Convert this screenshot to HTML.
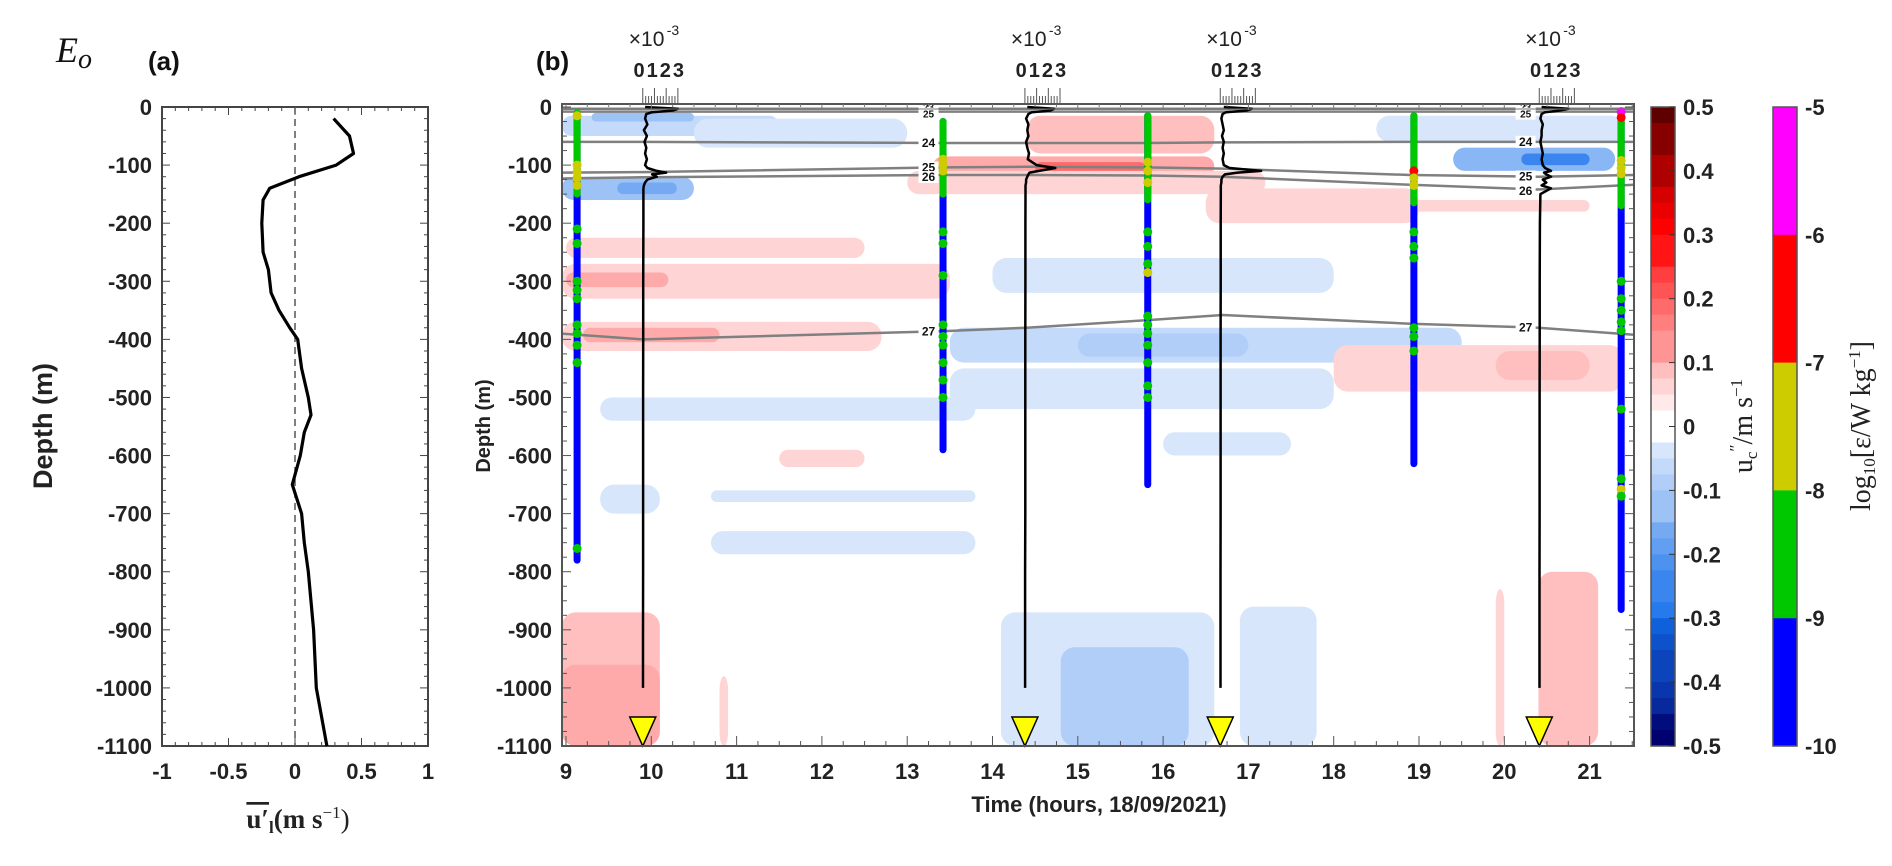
<!DOCTYPE html>
<html><head><meta charset="utf-8">
<style>
body{margin:0;background:#fff;position:relative;width:1892px;height:861px;overflow:hidden;}
.tk{font-family:"Liberation Sans",sans-serif;font-weight:bold;font-size:22px;fill:#222;}
.sans{font-family:"Liberation Sans",sans-serif;}
</style></head>
<body>
<svg id="fig" width="1892" height="861" viewBox="0 0 1892 861" xmlns="http://www.w3.org/2000/svg">
</svg>
<script>
// ---------- DATA ----------
const aDepth=[-20,-50,-80,-100,-120,-140,-160,-200,-250,-280,-320,-350,-380,-400,-450,-500,-530,-560,-600,-650,-700,-750,-800,-900,-1000,-1100];
const aU=[0.29,0.41,0.44,0.31,0.03,-0.19,-0.24,-0.25,-0.24,-0.2,-0.18,-0.12,-0.04,0.02,0.05,0.1,0.12,0.07,0.04,-0.02,0.05,0.07,0.1,0.14,0.16,0.24];
const aYTicks=[0,-100,-200,-300,-400,-500,-600,-700,-800,-900,-1000,-1100];
const aXTicks=[-1,-0.5,0,0.5,1];
const bXTicks=[9,10,11,12,13,14,15,16,17,18,19,20,21];
const bYTicks=[0,-100,-200,-300,-400,-500,-600,-700,-800,-900,-1000,-1100];
const pT0=[8.95,9.3,10.5,8.95,9.6,13.3,14.5,14.4,13.0,18.5,19.4,20.2,8.95,9.0,9.0,8.95,9.2,13.5,15.0,14.0,13.5,18.0,19.9,16.5,9.4,8.95,8.95,14.1,14.8,16.9,9.4,10.7,10.7,20.4,19.9,10.8,11.5,16.0,17.5];
const pT1=[11.5,10.5,13.0,10.5,10.3,16.6,15.8,16.6,17.2,21.4,21.3,21.0,13.5,10.2,12.5,12.7,10.8,19.5,17.0,18.0,18.0,21.4,21.0,19.0,13.8,10.1,10.1,16.6,16.3,17.8,10.1,13.8,13.8,21.1,20.0,10.9,12.5,17.5,21.0];
const pD0=[15,10,20,120,130,85,95,15,110,15,70,80,270,285,225,370,380,380,390,260,450,410,420,140,500,870,960,870,930,860,650,660,730,800,830,980,590,560,160];
const pD1=[50,25,70,160,150,120,115,80,150,60,110,100,330,310,260,420,405,440,430,320,520,490,470,200,540,1100,1100,1100,1100,1100,700,680,770,1100,1100,1100,620,600,180];
const pV=[-0.07,-0.12,-0.05,-0.12,-0.18,0.1,0.18,0.07,0.05,-0.06,-0.15,-0.26,0.06,0.1,0.04,0.05,0.09,-0.07,-0.11,-0.05,-0.04,0.05,0.08,0.04,-0.04,0.07,0.09,-0.06,-0.1,-0.04,-0.04,-0.04,-0.04,0.07,0.04,0.04,0.04,-0.04,0.04];
const isoT=[8.95,9.9,13.4,14.4,15.8,16.7,18.9,20.4,21.52];
const iso23=[3,3,3,3,3,3,3,3,3];
const iso23b=[8,8,8,8,8,8,8,8,8];
const iso24=[60,60,62,62,62,61,60,60,60];
const iso25=[113,112,104,103,104,106,117,120,117];
const iso26=[123,121,117,117,118,120,134,142,134];
const iso27=[390,400,386,380,367,358,373,380,392];
const epsT=[9.13,13.42,15.82,18.94,21.37];
const epsTop=[10,25,15,15,10];
const epsBot=[780,590,650,614,865];
const epsGreenTop=[10,25,15,15,20];
const epsGreenBot=[150,150,160,165,170];
const eps1=[[15,2],[100,2],[112,2],[122,2],[135,2],[210,1],[235,1],[300,1],[315,1],[330,1],[375,1],[390,1],[410,1],[440,1],[760,1]];
const eps2=[[90,2],[100,2],[110,2],[215,1],[235,1],[290,1],[375,1],[395,1],[410,1],[440,1],[470,1],[500,1]];
const eps3=[[95,2],[110,2],[130,2],[215,1],[240,1],[270,1],[285,2],[360,1],[375,1],[390,1],[410,1],[440,1],[480,1],[500,1]];
const eps4=[[110,3],[122,2],[135,2],[215,1],[240,1],[260,1],[380,1],[395,1],[420,1]];
const eps5=[[8,4],[18,3],[92,2],[105,2],[115,2],[300,1],[330,1],[350,1],[370,1],[385,1],[520,1],[640,1],[658,2],[670,1]];
const epsDots=[eps1,eps2,eps3,eps4,eps5];
const epsColors=["#0000ff","#00c800","#cccc00","#ff0000","#ff00ff"];
const profT=[9.9,14.38,16.67,20.41];
const profD=[0,3,6,9,12,20,30,40,50,60,70,80,90,100,105,110,113,116,120,125,130,135,140,150,200,300,400,500,600,700,800,900,1000];
const prof1=[0.2,3.0,2.6,0.8,0.3,0.2,0.4,0.1,0.35,0.15,0.3,0.2,0.35,0.2,0.4,1.2,2.0,0.8,1.2,0.4,0.2,0.1,0.05,0.05,0.05,0.04,0.04,0.03,0.03,0.03,0.03,0.02,0.02];
const prof2=[0.2,2.5,2.2,0.6,0.3,0.1,0.3,0.2,0.3,0.1,0.2,0.35,0.25,1.0,2.6,1.2,0.4,0.3,0.2,0.1,0.1,0.05,0.05,0.05,0.04,0.04,0.03,0.03,0.03,0.03,0.02,0.02,0.02];
const prof3=[0.3,2.7,2.3,0.5,0.2,0.1,0.2,0.3,0.15,0.3,0.2,0.3,0.2,0.3,0.8,3.5,1.5,0.4,0.2,0.1,0.1,0.05,0.05,0.05,0.04,0.04,0.03,0.03,0.03,0.03,0.02,0.02,0.02];
const prof4=[0.2,2.5,1.8,0.5,0.2,0.1,0.3,0.2,0.2,0.1,0.2,0.3,0.2,0.3,0.5,1.0,0.4,0.6,1.0,0.3,0.6,0.2,1.0,0.1,0.05,0.04,0.04,0.03,0.03,0.03,0.02,0.02,0.02];
const profs=[prof1,prof2,prof3,prof4];
const cb1Ticks=[0.5,0.4,0.3,0.2,0.1,0,-0.1,-0.2,-0.3,-0.4,-0.5];
const cb2Ticks=[-5,-6,-7,-8,-9,-10];

// ---------- HELPERS ----------
const NS="http://www.w3.org/2000/svg";
const svg=document.getElementById('fig');
function mk(tag,attrs,parent){const e=document.createElementNS(NS,tag);for(const k in attrs)e.setAttribute(k,attrs[k]);(parent||svg).appendChild(e);return e;}
const TOP=107,BOT=746;
const yD=d=>TOP+(Math.abs(d)/1100)*(BOT-TOP);
const axL=162,axR=428;
const xA=u=>axL+(u+1)/2*(axR-axL);
const bL=562,bR=1634;
const xT=t=>566+(t-9)*85.3;
function col(v){
  v=Math.round(v/0.025)*0.025;
  if(Math.abs(v)<0.013)return "#ffffff";
  const a=Math.abs(v);
  let r,g,b;
  if(v>0){
    if(a<=0.3){const f=a/0.3;r=255;g=255-255*f;b=255-255*f;}
    else{const f=(a-0.3)/0.2;r=255-160*f;g=0;b=0;}
  }else{
    if(a<=0.3){const f=a/0.3;r=255-235*f;g=255-145*f;b=255-20*f;}
    else{const f=(a-0.3)/0.2;r=20-20*f;g=110-110*f;b=235-125*f;}
  }
  return `rgb(${r|0},${g|0},${b|0})`;
}
function txt(s,x,y,attrs,parent){const e=mk('text',Object.assign({x:x,y:y},attrs||{}),parent);e.textContent=s;return e;}

// ---------- PANEL A ----------
const gA=mk('g',{});


const fa=mk('rect',{x:axL,y:TOP,width:axR-axL,height:BOT-TOP,fill:'#fff',stroke:'#444','stroke-width':2},gA);


for(let d=0;d<=1100;d+=20){const y=yD(d);const L=(d%100===0)?8:4;
  mk('line',{x1:axL,x2:axL+L,y1:y,y2:y,stroke:'#444','stroke-width':1},gA);
  mk('line',{x1:axR,x2:axR-L,y1:y,y2:y,stroke:'#444','stroke-width':1},gA);}
for(let u=-1;u<=1.001;u+=0.1){const x=xA(u);const L=(Math.abs(Math.round(u*10))%5===0)?8:4;
  mk('line',{x1:x,x2:x,y1:BOT,y2:BOT-L,stroke:'#444','stroke-width':1},gA);
  mk('line',{x1:x,x2:x,y1:TOP,y2:TOP+L,stroke:'#444','stroke-width':1},gA);}
const zl=mk('line',{x1:xA(0),x2:xA(0),y1:TOP,y2:BOT,stroke:'#555','stroke-width':1.5,'stroke-dasharray':'7,5'},gA);


let pa='';aDepth.forEach((d,i)=>{pa+=(i?'L':'M')+xA(aU[i]).toFixed(1)+','+yD(d).toFixed(1);});
const la=mk('path',{d:pa,fill:'none',stroke:'#000','stroke-width':3.2,'stroke-linejoin':'round'},gA);


aYTicks.forEach(v=>{const t=txt(String(v),152,yD(v)+8,{class:'tk','text-anchor':'end'},gA);
  
  });
aXTicks.forEach(v=>{const t=txt(String(v),xA(v),779,{class:'tk','text-anchor':'middle'},gA);
  
  });

// ---------- PANEL B ----------
const gB=mk('g',{});


mk('rect',{x:bL,y:TOP-3,width:bR-bL,height:BOT-TOP+3,fill:'#fff'},gB);
const clip=mk('clipPath',{id:'cb'},gB);mk('rect',{x:bL,y:TOP+3,width:bR-bL,height:BOT-TOP-3},clip);
const gP=mk('g',{'clip-path':'url(#cb)'},gB);


pV.forEach((v,i)=>{
  const x0=xT(pT0[i]),x1=xT(pT1[i]),y0=yD(pD0[i]),y1=yD(pD1[i]);
  const r=mk('rect',{x:x0,y:y0,width:x1-x0,height:y1-y0,rx:Math.min(14,(y1-y0)/2),fill:col(v)},gP);
  
  
});
function isoLine(arr,name){let p='';isoT.forEach((t,i)=>{p+=(i?'L':'M')+xT(t).toFixed(1)+','+yD(arr[i]).toFixed(1);});
  const e=mk('path',{d:p,fill:'none',stroke:'#808080','stroke-width':2.5},gB);
  
  }
isoLine(iso23,'isopycnal-23');isoLine(iso23b,'isopycnal-23b');isoLine(iso24,'isopycnal-24');
isoLine(iso25,'isopycnal-25');isoLine(iso26,'isopycnal-26');isoLine(iso27,'isopycnal-27');
function interp(arr,t){for(let i=1;i<isoT.length;i++){if(t<=isoT[i]){const f=(t-isoT[i-1])/(isoT[i]-isoT[i-1]);return arr[i-1]+f*(arr[i]-arr[i-1]);}}return arr[arr.length-1];}
[13.25,20.25].forEach(t=>{
  [[iso23,'23',-2],[iso23b,'25',2],[iso24,'24',0],[iso25,'25',0],[iso26,'26',2],[iso27,'27',0]].forEach(([arr,lab,dy])=>{
    const y=yD(interp(arr,t))+dy;
    const fs=(arr===iso23||arr===iso23b)?10:12;
    mk('rect',{x:xT(t)-10,y:y-6,width:20,height:12,fill:'#fff'},gB);
    const e=txt(lab,xT(t),y+4,{class:'sans','font-size':fs,'font-weight':'bold','text-anchor':'middle',fill:'#111'},gB);
    
    
  });
});
epsT.forEach((t,i)=>{
  const x=xT(t);
  const g=mk('g',{},gB);
  
  
  mk('line',{x1:x,x2:x,y1:yD(epsTop[i]),y2:yD(epsBot[i]),stroke:epsColors[0],'stroke-width':7,'stroke-linecap':'round'},g);
  mk('line',{x1:x,x2:x,y1:yD(epsGreenTop[i]),y2:yD(epsGreenBot[i]),stroke:epsColors[1],'stroke-width':7,'stroke-linecap':'round'},g);
  epsDots[i].forEach(([d,l])=>{mk('circle',{cx:x,cy:yD(d),r:4.5,fill:epsColors[l]},g);});
});
const pxPer=11.7;
profT.forEach((t,k)=>{
  const x0=xT(t);let p='';
  profD.forEach((d,i)=>{p+=(i?'L':'M')+(x0+profs[k][i]*pxPer).toFixed(1)+','+yD(d).toFixed(1);});
  const e=mk('path',{d:p,fill:'none',stroke:'#000','stroke-width':2.5,'stroke-linejoin':'round'},gB);
  
  
  const tri=mk('path',{d:`M${x0-13},${BOT-29}L${x0+13},${BOT-29}L${x0},${BOT}Z`,fill:'#ffff00',stroke:'#000','stroke-width':1.5},gB);
  
  
  const g=mk('g',{},svg);
  
  
  mk('line',{x1:x0,x2:x0+3*pxPer,y1:104,y2:104,stroke:'#555','stroke-width':1},g);
  for(let v=0;v<=3.001;v+=0.25){const L=(Math.abs(v-Math.round(v))<0.01)?16:8;
    mk('line',{x1:x0+v*pxPer,x2:x0+v*pxPer,y1:104,y2:104-L,stroke:'#555','stroke-width':1},g);}
  txt('0123',x0+17,77,{class:'sans','font-size':20,'font-weight':'bold','text-anchor':'middle','letter-spacing':'2',fill:'#222'},g);
  txt('×10',x0-14,46,{class:'sans','font-size':21,fill:'#222'},g);
  txt('-3',x0+24,35,{class:'sans','font-size':14,fill:'#222'},g);
});
const fb=mk('rect',{x:bL,y:TOP-3,width:bR-bL,height:BOT-TOP+3,fill:'none',stroke:'#555','stroke-width':2},gB);


mk('line',{x1:bL,x2:bR,y1:TOP+2,y2:TOP+2,stroke:'#777','stroke-width':1},gB);
for(let t=9;t<=21.5;t+=0.25){const x=xT(t);if(x<bL||x>bR)continue;const L=(Math.abs(t-Math.round(t))<0.01)?10:5;
  mk('line',{x1:x,x2:x,y1:BOT,y2:BOT-L,stroke:'#555','stroke-width':1},gB);
  mk('line',{x1:x,x2:x,y1:TOP-3,y2:TOP-3+L*0.6,stroke:'#777','stroke-width':1},gB);}
for(let d=0;d<=1100;d+=25){const y=yD(d);const L=(d%100===0)?9:5;
  mk('line',{x1:bL,x2:bL+L,y1:y,y2:y,stroke:'#555','stroke-width':1},gB);
  mk('line',{x1:bR,x2:bR-L,y1:y,y2:y,stroke:'#555','stroke-width':1},gB);}
bYTicks.forEach(v=>{const t=txt(String(v),552,yD(v)+8,{class:'tk','text-anchor':'end'},gB);
  
  });
bXTicks.forEach(v=>{const t=txt(String(v),xT(v),779,{class:'tk','text-anchor':'middle'},gB);
  
  });

// ---------- COLORBARS ----------
const gC1=mk('g',{});


const cbX=1651,cbW=24;
for(let k=0;k<40;k++){const v1=0.5-k*0.025,v0=v1-0.025;const vm=(v0+v1)/2;
  const y=TOP+(0.5-v1)/1*(BOT-TOP);
  mk('rect',{x:cbX,y:y,width:cbW,height:(BOT-TOP)/40+0.5,fill:col(Math.abs(vm)<0.02?0:vm)},gC1);}
mk('rect',{x:cbX,y:TOP,width:cbW,height:BOT-TOP,fill:'none',stroke:'#555','stroke-width':1.5},gC1);
cb1Ticks.forEach(v=>{const y=TOP+(0.5-v)*(BOT-TOP);
  mk('line',{x1:cbX+cbW,x2:cbX+cbW-6,y1:y,y2:y,stroke:'#333'},gC1);
  const t=txt(String(v),1683,y+8,{class:'tk'},gC1);
  
  });
const gC2=mk('g',{});


const c2X=1773;
for(let k=0;k<5;k++){const h=(BOT-TOP)/5;
  mk('rect',{x:c2X,y:TOP+k*h,width:cbW,height:h+0.5,fill:epsColors[4-k]},gC2);}
mk('rect',{x:c2X,y:TOP,width:cbW,height:BOT-TOP,fill:'none',stroke:'#555','stroke-width':1.5},gC2);
cb2Ticks.forEach((v,i)=>{const y=TOP+i*(BOT-TOP)/5;
  const t=txt(String(v),1805,y+8,{class:'tk'},gC2);
  
  });
</script>
<svg width="1892" height="861" style="position:absolute;left:0;top:0" xmlns="http://www.w3.org/2000/svg">
 <text x="56" y="62" style="font-family:'Liberation Serif',serif;font-style:italic;font-size:36px" fill="#111">E<tspan style="font-size:28px" dy="6">o</tspan></text>
 <text x="148" y="70" style="font-family:'Liberation Sans',sans-serif;font-weight:bold;font-size:26px" fill="#111">(a)</text>
 <text x="536" y="70" style="font-family:'Liberation Sans',sans-serif;font-weight:bold;font-size:26px" fill="#111">(b)</text>
 <text transform="translate(52,426) rotate(-90)" text-anchor="middle" style="font-family:'Liberation Sans',sans-serif;font-weight:bold;font-size:27px" fill="#222">Depth (m)</text>
 <text transform="translate(490,426) rotate(-90)" text-anchor="middle" style="font-family:'Liberation Sans',sans-serif;font-weight:bold;font-size:20px" fill="#222">Depth (m)</text>
 <text x="298" y="828" text-anchor="middle" style="font-family:'Liberation Serif',serif;font-size:27px" fill="#222"><tspan text-decoration="overline" font-weight="bold">u′</tspan><tspan style="font-size:17px" dy="5" font-weight="bold">l</tspan><tspan dy="-5" font-weight="bold">(m s</tspan><tspan style="font-size:17px" dy="-10">−1</tspan><tspan dy="10">)</tspan></text>
 <text x="1099" y="812" text-anchor="middle" style="font-family:'Liberation Sans',sans-serif;font-weight:bold;font-size:22px" fill="#222">Time (hours, 18/09/2021)</text>
 <text transform="translate(1752,426) rotate(-90)" text-anchor="middle" style="font-family:'Liberation Serif',serif;font-size:28px" fill="#222">u<tspan style="font-size:17px" dy="5">c</tspan><tspan style="font-size:17px" dy="-16">″</tspan><tspan dy="11">/m s</tspan><tspan style="font-size:17px" dy="-10">−1</tspan></text>
 <text transform="translate(1870,426) rotate(-90)" text-anchor="middle" style="font-family:'Liberation Serif',serif;font-size:28px" fill="#222">log<tspan style="font-size:17px" dy="5">10</tspan><tspan dy="-5">[ε/W kg</tspan><tspan style="font-size:17px" dy="-10">−1</tspan><tspan dy="10">]</tspan></text>
</svg>
</body></html>
